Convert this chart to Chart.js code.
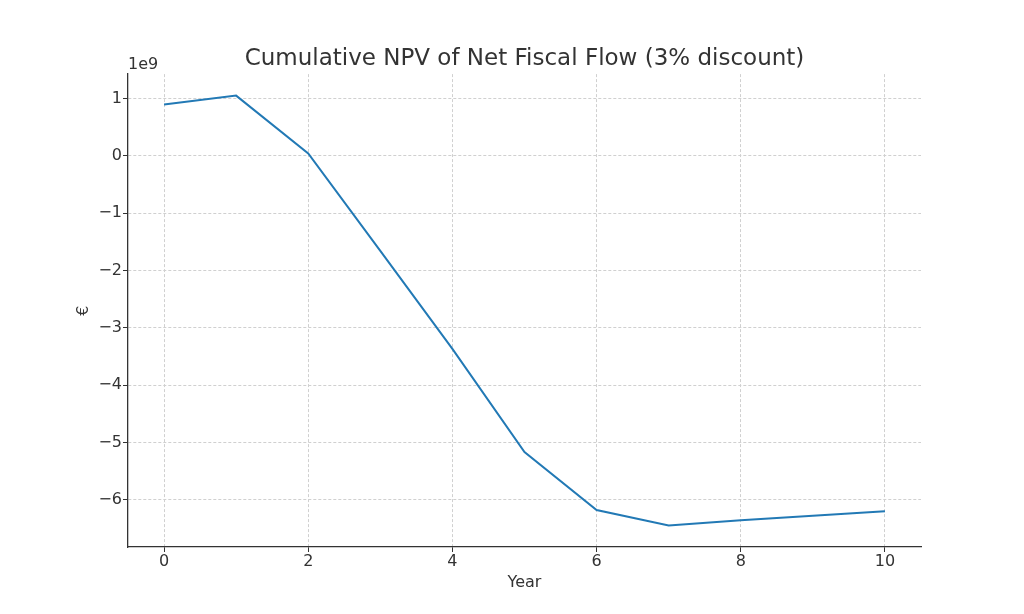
<!DOCTYPE html>
<html>
<head>
<meta charset="utf-8">
<script src="https://cdn.jsdelivr.net/npm/chart.js@4"></script>
<style>
  html, body { margin: 0; padding: 0; background: #fff; }
  canvas { display: block; }
</style>
</head>
<body>
<canvas id="npv" width="1024" height="614"></canvas>
<script>
// data (euros)
const years = [0, 1, 2, 3, 4, 5, 6, 7, 8, 9, 10];
const cumNpv = [0.895e9, 1.05e9, 0.04e9, -1.66e9, -3.37e9, -5.17e9, -6.18e9, -6.45e9, -6.36e9, -6.28e9, -6.20e9];
const xTicks = [0, 2, 4, 6, 8, 10];
const yTicks = [-6e9, -5e9, -4e9, -3e9, -2e9, -1e9, 0, 1e9];

const textColor = '#333333';
const font = { family: 'DejaVu Sans', size: 16 };

// "1e9" offset text above the y axis, like matplotlib
const offsetText = {
  id: 'offsetText',
  afterDraw(chart) {
    const { ctx, chartArea } = chart;
    ctx.save();
    ctx.font = '16px "DejaVu Sans"';
    ctx.fillStyle = textColor;
    ctx.textAlign = 'left';
    ctx.textBaseline = 'bottom';
    ctx.fillText('1e9', chartArea.left, chartArea.top - 1);
    ctx.restore();
  }
};

const minus = v => (v < 0 ? '\u2212' + Math.abs(v) : String(v));

const gridOpts = { color: '#d0d0d0', lineWidth: 1, tickColor: textColor, tickLength: 5, tickBorderDash: [] };
const borderOpts = { display: true, color: textColor, width: 1.3, dash: [3, 2] };

new Chart(document.getElementById('npv'), {
  type: 'line',
  data: {
    datasets: [{
      data: years.map((y, i) => ({ x: y, y: cumNpv[i] })),
      borderColor: '#2279b5',
      borderWidth: 2,
      pointRadius: 0,
      tension: 0,
      fill: false
    }]
  },
  options: {
    responsive: false,
    animation: false,
    devicePixelRatio: 1,
    layout: { padding: { left: 74, right: 103, top: 0, bottom: 22 } },
    plugins: {
      legend: { display: false },
      tooltip: { enabled: false },
      title: {
        display: true,
        fullSize: false,
        text: 'Cumulative NPV of Net Fiscal Flow (3% discount)',
        color: textColor,
        font: { family: 'DejaVu Sans', size: 23, weight: 'normal' },
        padding: { top: 45, bottom: 1.5 }
      }
    },
    scales: {
      x: {
        type: 'linear',
        min: -0.5,
        max: 10.5,
        afterBuildTicks: s => { s.ticks = xTicks.map(v => ({ value: v })); },
        afterFit: s => { s.height = 45; },
        ticks: { color: textColor, font, padding: 0, maxRotation: 0, callback: v => minus(v) },
        grid: gridOpts,
        border: borderOpts,
        title: { display: true, text: 'Year', color: textColor, font, padding: { top: 0, bottom: 0 } }
      },
      y: {
        type: 'linear',
        min: -6.825e9,
        max: 1.425e9,
        afterBuildTicks: s => { s.ticks = yTicks.map(v => ({ value: v })); },
        afterFit: s => { s.width = 54; },
        ticks: { color: textColor, font, padding: 1, callback: v => minus(Math.round(v / 1e9)) },
        grid: gridOpts,
        border: borderOpts,
        title: { display: true, text: '€', color: textColor, font, padding: { top: 0, bottom: 0 } }
      }
    }
  },
  plugins: [offsetText]
});
</script>
</body>
</html>
